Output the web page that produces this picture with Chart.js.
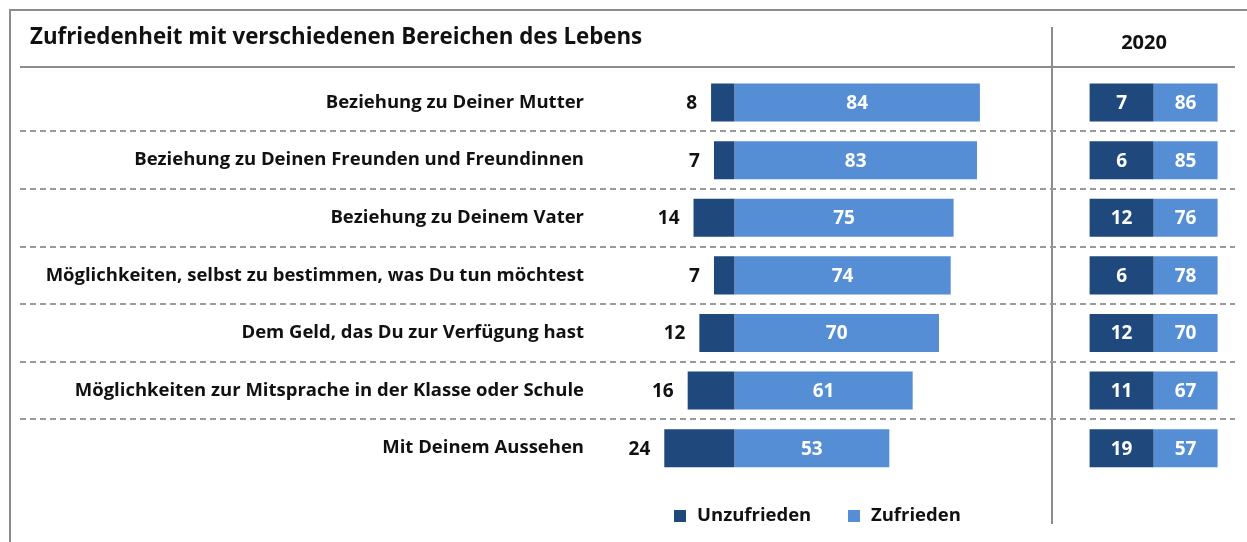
<!DOCTYPE html>
<html lang="de">
<head>
<meta charset="utf-8">
<title>Zufriedenheit mit verschiedenen Bereichen des Lebens</title>
<script src="https://cdn.jsdelivr.net/npm/chart.js@4.4.1/dist/chart.umd.min.js"></script>
<style>
  html, body { margin: 0; padding: 0; background: #fff; }
  canvas { display: block; }
</style>
</head>
<body>
<canvas id="lebenChart" width="1247" height="542"></canvas>
<script>
// Categories and survey values (percent)
const categories = [
    'Beziehung zu Deiner Mutter',
    'Beziehung zu Deinen Freunden und Freundinnen',
    'Beziehung zu Deinem Vater',
    'Möglichkeiten, selbst zu bestimmen, was Du tun möchtest',
    'Dem Geld, das Du zur Verfügung hast',
    'Möglichkeiten zur Mitsprache in der Klasse oder Schule',
    'Mit Deinem Aussehen'
];
const unzufrieden = [8, 7, 14, 7, 12, 16, 24];
const zufrieden = [84, 83, 75, 74, 70, 61, 53];

// comparison column
const unzufrieden2020 = [7, 6, 12, 6, 12, 11, 19];
const zufrieden2020 = [86, 85, 76, 78, 70, 67, 57];
const compareYear = '2020';

const DARK = '#1F497D';
const LIGHT = '#558ED5';
const FONT = '"Open Sans", "DejaVu Sans", sans-serif';

// frame, separators, header and legend
const decorPlugin = {
    id: 'decor',
    beforeDraw(chart) {
        const ctx = chart.ctx;
        const y = chart.scales.y;
        ctx.save();
        ctx.strokeStyle = '#8c8c8c';
        ctx.lineWidth = 2;
        // outer frame
        ctx.beginPath();
        ctx.moveTo(10, 542);
        ctx.lineTo(10, 10);
        ctx.lineTo(1247, 10);
        ctx.stroke();
        // title underline
        ctx.beginPath();
        ctx.moveTo(20, 67);
        ctx.lineTo(1235, 67);
        ctx.stroke();
        // column divider
        ctx.beginPath();
        ctx.moveTo(1052, 27);
        ctx.lineTo(1052, 524);
        ctx.stroke();
        // dashed row separators
        ctx.strokeStyle = '#9a9a9a';
        ctx.setLineDash([6, 4]);
        for (let i = 0; i < categories.length - 1; i++) {
            const sy = Math.round((y.getPixelForValue(i) + y.getPixelForValue(i + 1)) / 2);
            ctx.beginPath();
            ctx.moveTo(20, sy);
            ctx.lineTo(1235, sy);
            ctx.stroke();
        }
        ctx.setLineDash([]);
        // year header
        ctx.fillStyle = '#111';
        ctx.font = 'bold 20px ' + FONT;
        ctx.textAlign = 'center';
        ctx.textBaseline = 'middle';
        const x2 = chart.scales.x2;
        ctx.fillText(compareYear, x2.getPixelForValue(0.85), 43);
        ctx.restore();
    },
    afterDatasetsDraw(chart) {
        const ctx = chart.ctx;
        ctx.save();
        ctx.font = 'bold 19px ' + FONT;
        ctx.textBaseline = 'middle';

        // Unzufrieden: value left of the bar
        chart.getDatasetMeta(0).data.forEach((bar, i) => {
            const left = Math.min(bar.x, bar.base);
            ctx.fillStyle = '#111';
            ctx.textAlign = 'right';
            ctx.fillText(unzufrieden[i], left - 14, bar.y + 1);
        });
        // Zufrieden: value centered inside
        chart.getDatasetMeta(1).data.forEach((bar, i) => {
            ctx.fillStyle = '#fff';
            ctx.textAlign = 'center';
            ctx.fillText(zufrieden[i], (bar.x + bar.base) / 2, bar.y + 1);
        });
        // 2020 cells
        [unzufrieden2020, zufrieden2020].forEach((vals, d) => {
            chart.getDatasetMeta(d + 2).data.forEach((bar, i) => {
                ctx.fillStyle = '#fff';
                ctx.textAlign = 'center';
                ctx.fillText(vals[i], (bar.x + bar.base) / 2, bar.y + 1);
            });
        });

        // legend
        const items = [
            { label: chart.data.datasets[0].label, color: DARK, x: 674 },
            { label: chart.data.datasets[1].label, color: LIGHT, x: 848 }
        ];
        ctx.font = 'bold 18.5px ' + FONT;
        ctx.textAlign = 'left';
        items.forEach(item => {
            ctx.fillStyle = item.color;
            ctx.fillRect(item.x, 510, 12, 12);
            ctx.fillStyle = '#111';
            ctx.fillText(item.label, item.x + 23, 516);
        });
        ctx.restore();
    }
};

new Chart(document.getElementById('lebenChart'), {
    type: 'bar',
    data: {
        labels: categories,
        datasets: [
            {
                label: 'Unzufrieden',
                data: unzufrieden.map(v => -v),
                backgroundColor: DARK,
                xAxisID: 'x'
            },
            {
                label: 'Zufrieden',
                data: zufrieden,
                backgroundColor: LIGHT,
                xAxisID: 'x'
            },
            {
                label: 'Unzufrieden ' + compareYear,
                data: unzufrieden2020.map(() => [0, 1]),
                backgroundColor: DARK,
                xAxisID: 'x2'
            },
            {
                label: 'Zufrieden ' + compareYear,
                data: zufrieden2020.map(() => [1, 2]),
                backgroundColor: LIGHT,
                xAxisID: 'x2'
            }
        ]
    },
    options: {
        indexAxis: 'y',
        responsive: false,
        animation: false,
        devicePixelRatio: 1,
        categoryPercentage: 1,
        barPercentage: 0.66,
        layout: {
            padding: { left: 30, right: 7, top: 0, bottom: 65 }
        },
        scales: {
            x: {
                display: false,
                stacked: true,
                min: -46,
                max: 173
            },
            x2: {
                display: false,
                stacked: false,
                min: -7.65,
                max: 2.35
            },
            y: {
                stacked: true,
                grid: { display: false },
                border: { display: false },
                ticks: {
                    color: '#111',
                    padding: 8,
                    font: { family: FONT, size: 18.5, weight: 'bold' }
                },
                afterFit(scale) {
                    scale.width = 570;
                }
            }
        },
        plugins: {
            legend: { display: false },
            tooltip: { enabled: false },
            title: {
                display: true,
                text: 'Zufriedenheit mit verschiedenen Bereichen des Lebens',
                align: 'start',
                color: '#111',
                font: { family: FONT, size: 22.3, weight: 'bold' },
                padding: { top: 24, bottom: 23 }
            }
        }
    },
    plugins: [decorPlugin]
});
</script>
</body>
</html>
